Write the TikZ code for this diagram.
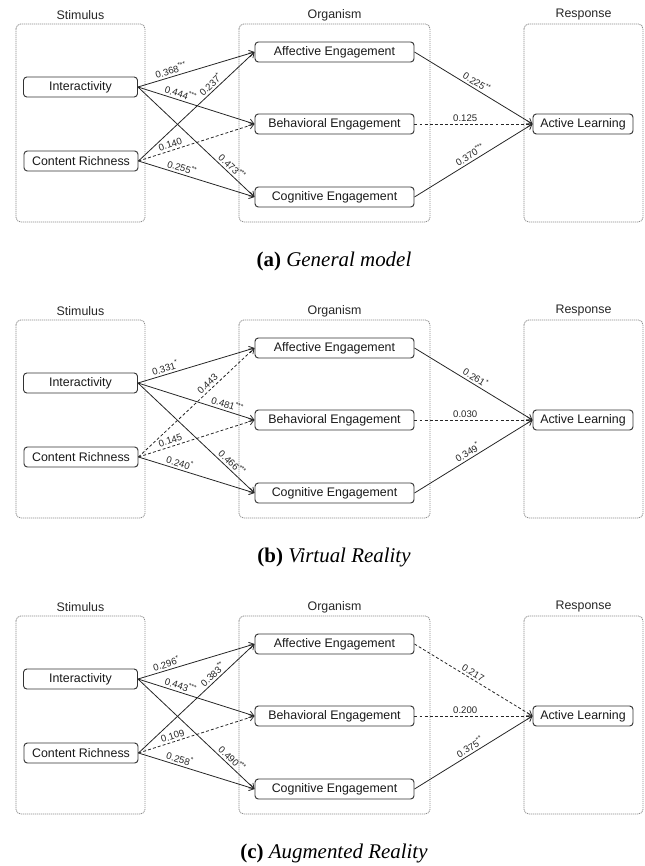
\documentclass[tikz,border=0pt]{standalone}
\usepackage{fontspec}
\setmainfont{Liberation Sans}
\newfontfamily\capfont{Liberation Serif}
\usetikzlibrary{arrows.meta}

\newcommand{\sorpanel}[3]{%
  % #1 suffix, #2 caption letter, #3 caption text
  \node[grouptitle] (ts#1) at (80.5,15) {Stimulus};
  \node[grouptitle] (to#1) at (334.5,15) {Organism};
  \node[grouptitle] (tr#1) at (583.5,15) {Response};
  \draw[outerbox] (16,24) rectangle (145,222);
  \draw[outerbox] (239,24) rectangle (430,222);
  \draw[outerbox] (524,24) rectangle (643,222);
  \node[stim] (int#1) at (80.5,87) {Interactivity};
  \node[stim] (cr#1) at (81,161) {Content Richness};
  \node[org] (aff#1) at (334.5,52) {Affective Engagement};
  \node[org] (beh#1) at (334.5,124) {Behavioral Engagement};
  \node[org] (cog#1) at (334.5,197) {Cognitive Engagement};
  \node[resp] (act#1) at (583,124) {Active Learning};
  \node[caption] (cap#1) at (334,261) {\textbf{(#2)} \textit{#3}};
}

\begin{document}
\begin{tikzpicture}[x=0.75pt,y=-0.75pt,
  outerbox/.style={draw=black!45, line width=0.6pt, dash pattern=on 0.9pt off 0.6pt, rounded corners=3.5pt},
  grouptitle/.style={font=\fontsize{9.3}{11}\selectfont, text=black!85},
  var/.style={draw=black!80, line width=0.7pt, rounded corners=2.5pt, minimum height=15pt, inner sep=0pt, font=\fontsize{9.3}{11}\selectfont, text=black!90},
  stim/.style={var, minimum width=85.5pt},
  org/.style={var, minimum width=119.25pt},
  resp/.style={var, minimum width=75pt},
  sig/.style={draw=black!85, line width=0.6pt, -{Straight Barb[length=3.5pt,width=5pt]}},
  ns/.style={sig, dash pattern=on 2.2pt off 1.6pt},
  coef/.style={sloped, above, inner sep=0.8pt, yshift=0.8pt, font=\fontsize{7.2}{8}\selectfont, text=black!85, pos=#1},
  coef/.default=0.5,
  caption/.style={font=\capfont\fontsize{15.7}{18}\selectfont, text=black}
]
\useasboundingbox (0,0) rectangle (644,866);

% ---------- (a) ----------
\begin{scope}
\sorpanel{A}{a}{General model}
\draw[sig] (intA.east) -- node[coef=0.3]{0.368\textsuperscript{***}} (affA.west);
\draw[sig] (intA.east) -- node[coef=0.35]{0.444\textsuperscript{***}} (behA.west);
\draw[sig] (intA.east) -- node[coef=0.77]{0.473\textsuperscript{***}} (cogA.west);
\draw[sig] (crA.east) -- node[coef=0.66]{0.237\textsuperscript{*}} (affA.west);
\draw[ns] (crA.east) -- node[coef=0.29]{0.140} (behA.west);
\draw[sig] (crA.east) -- node[coef=0.36]{0.255\textsuperscript{**}} (cogA.west);
\draw[sig] (affA.east) -- node[coef=0.5]{0.225\textsuperscript{**}} (actA.west);
\draw[ns] (behA.east) -- node[coef=0.43]{0.125} (actA.west);
\draw[sig] (cogA.east) -- node[coef=0.5]{0.370\textsuperscript{***}} (actA.west);
\end{scope}

% ---------- (b) ----------
\begin{scope}[shift={(0,296)}]
\sorpanel{B}{b}{Virtual Reality}
\draw[sig] (intB.east) -- node[coef=0.25]{0.331\textsuperscript{*}} (affB.west);
\draw[sig] (intB.east) -- node[coef=0.75]{0.481\textsuperscript{***}} (behB.west);
\draw[sig] (intB.east) -- node[coef=0.77]{0.466\textsuperscript{***}} (cogB.west);
\draw[ns] (crB.east) -- node[coef=0.63]{0.443} (affB.west);
\draw[ns] (crB.east) -- node[coef=0.29]{0.145} (behB.west);
\draw[sig] (crB.east) -- node[coef=0.34]{0.240\textsuperscript{*}} (cogB.west);
\draw[sig] (affB.east) -- node[coef=0.49]{0.261\textsuperscript{*}} (actB.west);
\draw[ns] (behB.east) -- node[coef=0.43]{0.030} (actB.west);
\draw[sig] (cogB.east) -- node[coef=0.48]{0.349\textsuperscript{*}} (actB.west);
\end{scope}

% ---------- (c) ----------
\begin{scope}[shift={(0,592)}]
\sorpanel{C}{c}{Augmented Reality}
\draw[sig] (intC.east) -- node[coef=0.26]{0.296\textsuperscript{*}} (affC.west);
\draw[sig] (intC.east) -- node[coef=0.35]{0.443\textsuperscript{***}} (behC.west);
\draw[sig] (intC.east) -- node[coef=0.77]{0.490\textsuperscript{***}} (cogC.west);
\draw[sig] (crC.east) -- node[coef=0.68]{0.383\textsuperscript{**}} (affC.west);
\draw[ns] (crC.east) -- node[coef=0.31]{0.109} (behC.west);
\draw[sig] (crC.east) -- node[coef=0.34]{0.258\textsuperscript{*}} (cogC.west);
\draw[ns] (affC.east) -- node[coef=0.47]{0.217} (actC.west);
\draw[ns] (behC.east) -- node[coef=0.43]{0.200} (actC.west);
\draw[sig] (cogC.east) -- node[coef=0.5]{0.375\textsuperscript{**}} (actC.west);
\end{scope}
\end{tikzpicture}
\end{document}
